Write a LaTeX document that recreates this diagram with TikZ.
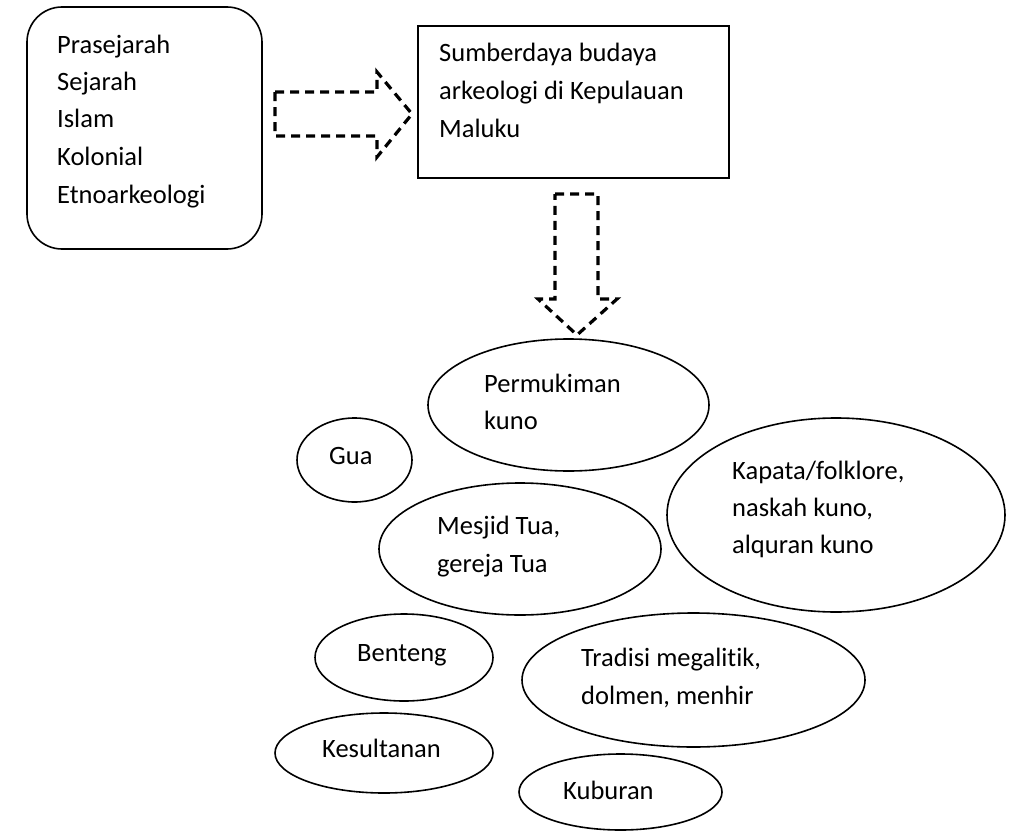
\documentclass[tikz,border=0pt]{standalone}
\usepackage{fontspec}
\setmainfont{Carlito}[Ligatures=NoCommon]
\usetikzlibrary{shapes.geometric}
\begin{document}
\begin{tikzpicture}[x=1pt,y=-1pt,
  txt/.style={anchor=base west, inner sep=0pt, font=\fontsize{26.5}{37}\selectfont},
  ell/.style={draw, ellipse, line width=1.6pt, inner sep=0pt},
  blk/.style={draw, line width=1.6pt, inner sep=0pt},
  darrow/.style={draw, line width=3.2pt, dash pattern=on 9pt off 6pt, line join=miter}]
\useasboundingbox (0,0) rectangle (1014,832);
% boxes
\node[blk, rounded corners=35pt, minimum width=235pt, minimum height=242pt] (periods) at (144.5,128) {};
\node[blk, minimum width=311pt, minimum height=152pt] (sumber) at (573.5,102) {};
% block arrows
\draw[darrow] (275,92) -- (377,92) -- (377,72) -- (412,114) -- (377,157) -- (377,136) -- (275,136) -- cycle;
\draw[darrow] (555,194) -- (598,194) -- (598,299) -- (617,299) -- (577,335) -- (538,299) -- (555,299) -- cycle;
% ellipses
\node[ell, minimum width=281pt, minimum height=132pt] (perm) at (568.5,405) {};
\node[ell, minimum width=115pt, minimum height=84pt] (gua) at (354.5,460) {};
\node[ell, minimum width=338pt, minimum height=194pt] (kapata) at (836,515) {};
\node[ell, minimum width=282pt, minimum height=132pt] (mesjid) at (520,549) {};
\node[ell, minimum width=178pt, minimum height=87pt] (benteng) at (404,657.5) {};
\node[ell, minimum width=343pt, minimum height=134pt] (tradisi) at (693.5,680) {};
\node[ell, minimum width=218pt, minimum height=80pt] (kesultanan) at (384,753) {};
\node[ell, minimum width=203pt, minimum height=76pt] (kuburan) at (620.5,792) {};
% texts
\node[txt] (p1) at (57,54) {Prasejarah};
\node[txt] (p2) at (57,91) {Sejarah};
\node[txt] (p3) at (57,128) {Islam};
\node[txt] (p4) at (57,165.5) {Kolonial};
\node[txt] (p5) at (57,203) {Etnoarkeologi};
\node[txt] (s1) at (439,62) {Sumberdaya budaya};
\node[txt] (s2) at (439,99.5) {arkeologi di Kepulauan};
\node[txt] (s3) at (439,137) {Maluku};
\node[txt] (pk1) at (484,392) {Permukiman};
\node[txt] (pk2) at (484,429) {kuno};
\node[txt] (g1) at (329,464) {Gua};
\node[txt] (k1) at (732,479) {Kapata/folklore,};
\node[txt] (k2) at (732,516) {naskah kuno,};
\node[txt] (k3) at (732,553) {alquran kuno};
\node[txt] (m1) at (437,534) {Mesjid Tua,};
\node[txt] (m2) at (437,572) {gereja Tua};
\node[txt] (b1) at (357,661) {Benteng};
\node[txt] (tr1) at (581,666) {Tradisi megalitik,};
\node[txt] (tr2) at (581,704) {dolmen, menhir};
\node[txt] (ks1) at (322,757) {Kesultanan};
\node[txt] (kb1) at (563,799) {Kuburan};
\end{tikzpicture}
\end{document}
